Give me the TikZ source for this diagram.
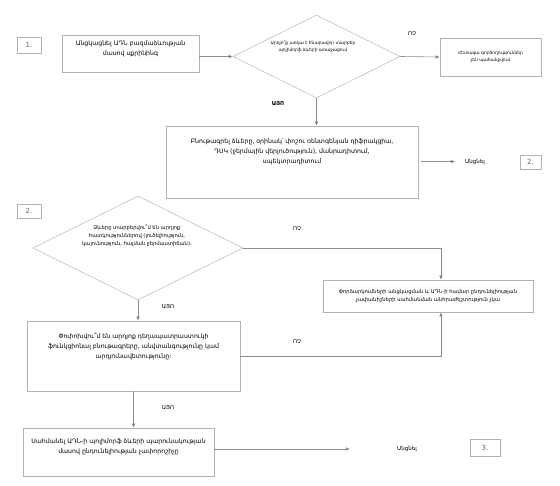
\documentclass[tikz,border=0pt]{standalone}
\usepackage{fontspec}
\setmainfont{DejaVu Sans}
\usetikzlibrary{shapes.geometric,arrows.meta}

\begin{document}
\begin{tikzpicture}[x=1pt,y=-1pt,
  every node/.style={inner sep=0pt},
  blk/.style={draw=black!30,line width=0.6pt},
  dmd/.style={draw=black!25,line width=0.6pt,diamond},
  num/.style={draw=black!30,line width=0.6pt,text=black!60,font=\fontsize{7}{8}\selectfont},
  tbig/.style={align=center,font=\fontsize{6.2}{10}\selectfont},
  tmid/.style={align=center,font=\fontsize{5.2}{8}\selectfont},
  tsml/.style={align=center,font=\fontsize{4.4}{7}\selectfont},
  lbl/.style={font=\fontsize{5.5}{6}\selectfont},
  arr/.style={draw=black!45,line width=0.6pt,-{Latex[length=4pt,width=3.5pt,fill=black!70]}}]

\useasboundingbox (0,0) rectangle (560,486);

% step 1
\node[num,minimum width=24pt,minimum height=16pt] (n1) at (29,45) {1.};
\node[blk,minimum width=137pt,minimum height=37pt] (screen) at (130.5,53.5) {};
\node[tbig,anchor=north] at ([yshift=-6pt]screen.north) {Անցկացնել ԱԴՆ բազմաձևության\\մասով սքրինինգ};

\node[dmd,minimum width=167pt,minimum height=83pt] (poly) at (316.5,56.5) {};
\node[tsml] at (313,47) {Արդյո՞ք առկա է հնարավոր տարբեր\\պոլիմորֆ ձևերի առաջացում};

\node[blk,minimum width=101pt,minimum height=38pt] (nofurther) at (490.5,57) {};
\node[tsml] at (nofurther) {Հետագա գործողություններ\\չեն պահանջվում};

\node[blk,minimum width=252pt,minimum height=72pt] (charact) at (292,162) {};
\node[tbig,anchor=north] at ([yshift=-13pt]charact.north) {Բնութագրել ձևերը, օրինակ՝ փոշու ռենտգենյան դիֆրակցիա,\\ԴՍԿ (ջերմային վերլուծություն), մանրադիտում,\\սպեկտրադիտում};

\node[lbl] (go2) at (475,161.5) {Անցնել};
\node[num,minimum width=21pt,minimum height=14pt] (n2a) at (530.5,162) {2.};

\draw[arr] (screen.east |- poly.west) -- (poly.west);
\draw[arr] (poly.east) -- (nofurther.west);
\draw[arr] (poly.south) -- (poly.south |- charact.north);
\draw[arr,shorten <=3pt,shorten >=10pt] (charact.east |- go2.west) -- (go2.west);

\node[lbl] at (412,34) {ՈՉ};
\node[lbl,font=\fontsize{5.5}{6}\selectfont\bfseries] at (278,104) {ԱՅՈ};

% step 2
\node[num,minimum width=24pt,minimum height=14pt] (n2b) at (29,211) {2.};
\node[dmd,minimum width=210pt,minimum height=104pt] (diff) at (138,248) {};
\node[tmid] at (137,236) {Ձևերը տարբերվու՞մ են արդյոք\\հատկություններով (լուծելիություն,\\կայունություն, հալման ջերմաստիճան)։};

\coordinate (bend) at (441,248);
\node[blk,minimum width=210pt,minimum height=32pt] (noneed) at (428,296) {};
\node[tmid] at (noneed) {Փորձարկումների անցկացման և ԱԴՆ-ի համար ընդունելիության\\չափանիշների սահմանման անհրաժեշտություն չկա};

\node[blk,minimum width=213pt,minimum height=70pt] (affect) at (133.5,356) {};
\node[tbig,anchor=north] at ([yshift=-12pt]affect.north) {Փոփոխվու՞մ են արդյոք դեղապատրաստուկի\\ֆունկցիոնալ բնութագրերը, անվտանգությունը կամ\\արդյունավետությունը։};

\node[blk,minimum width=191pt,minimum height=48pt] (setcrit) at (118.5,452) {};
\node[tbig,anchor=north] at ([yshift=-11pt]setcrit.north) {Սահմանել ԱԴՆ-ի պոլիմորֆ ձևերի պարունակության\\մասով ընդունելիության չափորոշիչը};

\node[lbl] (go3) at (407,449) {Անցնել};
\node[num,minimum width=30pt,minimum height=17pt] (n3) at (485,447.5) {3.};

\draw[arr] (diff.east) -| (noneed.north -| bend);
\draw[arr] (affect.east) -| (noneed.south -| bend);
\draw[arr] (diff.south) -- (diff.south |- affect.north);
\draw[arr] (affect.south) -- (affect.south |- setcrit.north);
\draw[arr,shorten >=47pt] (setcrit.east |- go3.west) -- (go3.west);

\node[lbl] at (297,229) {ՈՉ};
\node[lbl] at (297,342) {ՈՉ};
\node[lbl] at (168,307) {ԱՅՈ};
\node[lbl] at (168,408) {ԱՅՈ};

\end{tikzpicture}
\end{document}
